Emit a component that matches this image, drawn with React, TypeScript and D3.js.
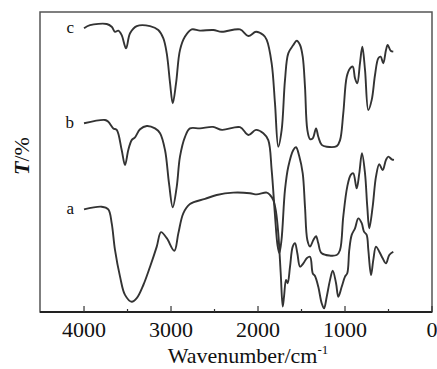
import React from 'react';
import * as d3 from 'd3';

// wavenumber (cm-1) and transmittance (offset, arbitrary %)
const waveC = [4000, 3931, 3739, 3682, 3644, 3606, 3567, 3517, 3471, 3394, 3241, 3146, 3088, 3049, 3011, 2980, 2942, 2897, 2839, 2762, 2667, 2514, 2417, 2207, 2111, 2023, 1939, 1900, 1843, 1805, 1767, 1728, 1690, 1652, 1594, 1555, 1517, 1486, 1460, 1433, 1402, 1371, 1333, 1307, 1268, 1210, 1095, 1057, 1020, 980, 942, 911, 885, 859, 828, 801, 770, 732, 693, 655, 617, 590, 560, 529, 509, 475, 445];
const transC = [94.6, 95.6, 96, 95.1, 93.4, 93.8, 92.3, 87.9, 92.9, 95.3, 95.3, 94, 91.2, 86.2, 76.3, 69.6, 76.3, 87.3, 91.8, 94.2, 93.8, 94, 93.4, 94.2, 92, 93.4, 92.3, 90.7, 82.9, 69.6, 55.1, 60.7, 77.3, 86.2, 89, 90.4, 89, 85.1, 75.1, 60.7, 57.6, 57.9, 61.2, 58.4, 55.7, 55.1, 55.3, 57.3, 66.2, 78.4, 81.2, 81.8, 77.9, 76.2, 82.9, 88.4, 80.7, 67.3, 70.7, 79, 84.6, 85.1, 82.9, 87.3, 89, 87.1, 86.8];

const waveB = [4000, 3759, 3721, 3663, 3624, 3567, 3529, 3491, 3452, 3414, 3356, 3279, 3184, 3126, 3069, 3023, 2980, 2934, 2897, 2839, 2782, 2667, 2517, 2414, 2207, 2111, 2023, 1939, 1882, 1843, 1805, 1776, 1755, 1730, 1690, 1652, 1594, 1563, 1525, 1486, 1460, 1433, 1402, 1364, 1333, 1307, 1268, 1095, 1057, 1020, 974, 934, 905, 866, 836, 805, 770, 744, 721, 682, 644, 606, 567, 529, 502, 463, 437];
const transB = [62.9, 64, 63.4, 61.2, 60.7, 54, 49, 54, 57.3, 58.2, 60.9, 62, 61.2, 59.6, 54, 42.9, 34.9, 41.8, 51.8, 58.4, 61.2, 61.2, 61.7, 60.7, 61.6, 59, 60.7, 59.6, 57.3, 47.3, 32.3, 22.3, 19.6, 24, 40.7, 48.4, 54, 54.9, 51.8, 46.2, 35.1, 24, 21.8, 24, 25.3, 22.9, 19.6, 19, 20.7, 31.8, 41.8, 45.7, 46.2, 41.2, 46.2, 52.9, 46.2, 35.1, 27.9, 35.1, 45.1, 49.3, 47.3, 50.7, 51.8, 50.9, 50.7];

const waveA = [4000, 3797, 3721, 3682, 3644, 3586, 3529, 3452, 3394, 3318, 3241, 3164, 3115, 3049, 2962, 2916, 2859, 2782, 2609, 2475, 2284, 2092, 2015, 1900, 1862, 1824, 1793, 1767, 1739, 1716, 1701, 1678, 1659, 1632, 1601, 1575, 1548, 1517, 1479, 1440, 1402, 1371, 1345, 1307, 1268, 1241, 1210, 1172, 1141, 1103, 1077, 1038, 1000, 974, 951, 923, 885, 847, 808, 782, 751, 732, 701, 675, 644, 606, 567, 529, 491, 445];
const transA = [34.2, 35.1, 34.2, 29.6, 20.7, 11.8, 5.7, 3.4, 4.6, 9, 15.1, 21.8, 26.6, 24.6, 20.4, 26.2, 32.9, 36, 37.7, 39, 39.8, 39.6, 39.2, 39.8, 39, 37.3, 33.4, 26.2, 12.9, 1.8, 5.1, 10.7, 9.6, 15.1, 21.8, 22.9, 19.6, 15.1, 16.2, 17.9, 18.4, 12.9, 12, 8.4, 2.9, 1.2, 5.1, 10.7, 13.8, 9.6, 5.1, 8.4, 11.8, 12.9, 20.7, 25.7, 27.9, 31.2, 29.6, 26.8, 25.7, 20.7, 12.3, 17.3, 21.8, 20.1, 17.9, 16.2, 19, 20.1];

const seriesNames = ['a', 'b', 'c'];
const majorTicks = [4000, 3000, 2000, 1000, 0];
const minorTicks = [3500, 2500, 1500, 500];

const W = 437;
const H = 369;
const margin = { top: 12, right: 5, bottom: 57, left: 40 };

const App = () => {
  const x = d3.scaleLinear().domain([4506, 0]).range([margin.left, W - margin.right]);
  const y = d3.scaleLinear().domain([0, 100]).range([H - margin.bottom, margin.top]);

  const line = d3.line<[number, number]>()
    .x(d => x(d[0]))
    .y(d => y(d[1]))
    .curve(d3.curveCatmullRom.alpha(0.5));

  const series = [
    { name: seriesNames[0], wave: waveA, trans: transA },
    { name: seriesNames[1], wave: waveB, trans: transB },
    { name: seriesNames[2], wave: waveC, trans: transC },
  ];

  const bottom = H - margin.bottom;
  const font = 'Liberation Serif';

  return (
    <svg width={W} height={H} style={{ position: 'absolute', left: 0, top: 0 }}>
      <rect x={0} y={0} width={W} height={H} fill="#fff" />
      {/* frame */}
      <rect x={margin.left} y={margin.top} width={W - margin.right - margin.left} height={bottom - margin.top}
        fill="none" stroke="#555" strokeWidth={1.5} />
      <line x1={margin.left} x2={W - margin.right} y1={bottom} y2={bottom} stroke="#222" strokeWidth={2} />

      {/* ticks */}
      {majorTicks.map(t => (
        <g key={'M' + t}>
          <line x1={x(t)} x2={x(t)} y1={bottom} y2={bottom - 6} stroke="#333" strokeWidth={1.2} />
          <text x={x(t)} y={337} textAnchor="middle" style={{ fontFamily: font }} fontSize={22} fill="#111">{t}</text>
        </g>
      ))}
      {minorTicks.map(t => (
        <line key={'m' + t} x1={x(t)} x2={x(t)} y1={bottom} y2={bottom - 3} stroke="#333" strokeWidth={1.2} />
      ))}

      {/* spectra */}
      {series.map(s => {
        const pts = s.wave.map((w, i) => [w, s.trans[i]] as [number, number]);
        return (
          <g key={s.name}>
            <path d={line(pts) || ''} fill="none" stroke="#333" strokeWidth={1.9} strokeLinejoin="round" />
            <text x={x(s.wave[0]) - 10} y={y(s.trans[0]) + 5} textAnchor="end" style={{ fontFamily: font }} fontSize={17} fill="#111">{s.name}</text>
          </g>
        );
      })}

      {/* axis titles */}
      <text x={248} y={363} textAnchor="middle" style={{ fontFamily: font }} fontSize={22} fill="#111">
        Wavenumber/cm<tspan fontSize={13} dy={-9}>-1</tspan>
      </text>
      <text transform="translate(29,156) rotate(-90)" textAnchor="middle" style={{ fontFamily: font }} fontSize={22} fill="#111">
        <tspan fontStyle="italic" fontWeight="bold">T</tspan>/%
      </text>
    </svg>
  );
};

export default App;
